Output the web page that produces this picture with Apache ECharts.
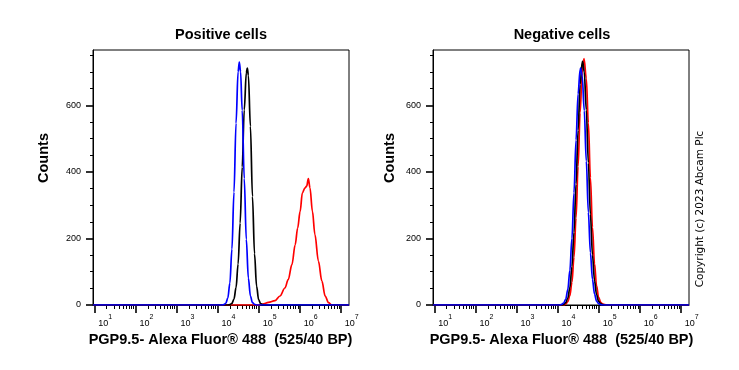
<!DOCTYPE html>
<html>
<head>
<meta charset="utf-8">
<script src="https://cdn.jsdelivr.net/npm/echarts@6/dist/echarts.min.js"></script>
<style>
html,body{margin:0;padding:0;background:#fff;}
#chart{width:739px;height:370px;}
</style>
</head>
<body>
<div id="chart"></div>
<script>
// ---- data (x in log10 units of fluorescence, y = counts) ----
const panelTitles = ['Positive cells', 'Negative cells'];
const xAxisTitle = 'PGP9.5- Alexa Fluor\u00AE 488  (525/40 BP)';
const yAxisTitle = 'Counts';
const copyrightText = 'Copyright (c) 2023 Abcam Plc';

const xDecades = [1, 2, 3, 4, 5, 6, 7];
const minorMultipliers = [2, 3, 4, 5, 6, 7, 8, 9];
const yMajorTicks = [0, 200, 400, 600];
const yMinorTicks = [50, 100, 150, 250, 300, 350, 450, 500, 550, 650, 700, 750];
const xRange = [0.968, 7.20];
const yRange = [0, 766];

// Positive cells
const posBlueX  = [0.97, 4.10, 4.15, 4.20, 4.25, 4.30, 4.35, 4.40, 4.45, 4.50, 4.53, 4.56, 4.60, 4.65, 4.70, 4.75, 4.80, 4.85, 4.90, 4.95, 7.20];
const posBlueY  = [0, 0, 1, 5, 21, 66, 168, 339, 546, 701, 730, 701, 585, 380, 197, 81, 27, 7, 2, 0, 0];
const posBlackX = [0.97, 4.25, 4.30, 4.35, 4.40, 4.45, 4.50, 4.55, 4.60, 4.65, 4.70, 4.725, 4.75, 4.80, 4.85, 4.90, 4.95, 5.00, 5.05, 5.10, 5.15, 7.20];
const posBlackY = [0, 0, 1, 5, 18, 52, 123, 246, 414, 586, 697, 712, 690, 537, 326, 154, 57, 16, 4, 1, 0, 0];
const posRedX   = [0.97, 5.00, 5.10, 5.24, 5.40, 5.52, 5.64, 5.72, 5.81, 5.89, 5.95, 6.01, 6.065, 6.13, 6.17, 6.21, 6.25, 6.31, 6.37, 6.455, 6.54, 6.62, 6.70, 6.78, 7.20];
const posRedY   = [0, 0, 3, 8, 13, 27, 51, 76, 121, 181, 231, 281, 337, 352, 357, 380, 352, 281, 212, 132, 72, 27, 7, 0, 0];

// Negative cells
const negBlueX  = [0.97, 4.05, 4.10, 4.15, 4.20, 4.25, 4.30, 4.35, 4.40, 4.45, 4.50, 4.55, 4.565, 4.60, 4.65, 4.70, 4.75, 4.80, 4.85, 4.90, 4.95, 5.00, 5.05, 5.10, 7.20];
const negBlueY  = [0, 0, 2, 6, 18, 47, 104, 200, 337, 495, 634, 708, 712, 688, 584, 432, 278, 157, 77, 33, 12, 4, 1, 0, 0];
const negBlackX = [0.97, 4.10, 4.15, 4.20, 4.25, 4.30, 4.35, 4.40, 4.45, 4.50, 4.55, 4.60, 4.61, 4.65, 4.70, 4.75, 4.80, 4.85, 4.90, 4.95, 5.00, 5.05, 5.10, 5.15, 7.20];
const negBlackY = [0, 0, 2, 7, 21, 52, 115, 218, 363, 525, 663, 730, 732, 700, 586, 427, 272, 151, 73, 31, 11, 4, 1, 0, 0];
const negRedX   = [0.97, 4.15, 4.20, 4.25, 4.30, 4.35, 4.40, 4.45, 4.50, 4.55, 4.60, 4.645, 4.70, 4.75, 4.80, 4.85, 4.90, 4.95, 5.00, 5.05, 5.10, 5.15, 5.20, 7.20];
const negRedY   = [0, 0, 3, 10, 28, 68, 143, 261, 416, 578, 700, 740, 681, 547, 383, 234, 124, 58, 23, 8, 3, 1, 0, 0];

// ---- build ----
const zip = (xs, ys) => xs.map((x, i) => [x, ys[i]]);
const xMinorTicks = [];
xDecades.forEach(d => minorMultipliers.forEach(m => {
  const v = d + Math.log10(m);
  if (v > xRange[0] && v < xRange[1]) xMinorTicks.push(v);
}));

const FONT = 'Liberation Sans, Arial, sans-serif';
const grids = [
  { left: 93, top: 50, width: 256, height: 255 },
  { left: 433, top: 50, width: 256, height: 255 }
];

const xAxes = [], yAxes = [];
grids.forEach((g, gi) => {
  xAxes.push({
    type: 'value', gridIndex: gi, position: 'bottom', min: xRange[0], max: xRange[1],
    axisLine: { show: true, lineStyle: { color: '#000', width: 1 } },
    axisTick: { show: true, customValues: xDecades, length: 8, lineStyle: { color: '#000', width: 1.6 } },
    axisLabel: {
      show: true, customValues: xDecades, margin: 9, align: 'left', padding: [0, 0, 0, 4],
      formatter: v => '{b|10}{s|' + Math.round(v) + '}',
      rich: {
        b: { fontSize: 9, fontFamily: FONT, color: '#000', verticalAlign: 'bottom', lineHeight: 14 },
        s: { fontSize: 7, fontFamily: FONT, color: '#000', verticalAlign: 'top', lineHeight: 8 }
      }
    },
    splitLine: { show: false }
  });
  xAxes.push({
    type: 'value', gridIndex: gi, position: 'bottom', min: xRange[0], max: xRange[1],
    axisLine: { show: false },
    axisTick: { show: true, customValues: xMinorTicks, length: 4, lineStyle: { color: '#000', width: 1 } },
    axisLabel: { show: false },
    splitLine: { show: false }
  });
  yAxes.push({
    type: 'value', gridIndex: gi, position: 'left', min: yRange[0], max: yRange[1],
    axisLine: { show: true, lineStyle: { color: '#000', width: 1 } },
    axisTick: { show: true, customValues: yMajorTicks, length: 7, lineStyle: { color: '#000', width: 1.6 } },
    axisLabel: { show: true, customValues: yMajorTicks, margin: 12, fontSize: 9, fontFamily: FONT, color: '#000' },
    splitLine: { show: false }
  });
  yAxes.push({
    type: 'value', gridIndex: gi, position: 'left', min: yRange[0], max: yRange[1],
    axisLine: { show: false },
    axisTick: { show: true, customValues: yMinorTicks, length: 3, lineStyle: { color: '#000', width: 1 } },
    axisLabel: { show: false },
    splitLine: { show: false }
  });
});

function line(xs, ys, color, gi) {
  return {
    type: 'line', xAxisIndex: gi * 2, yAxisIndex: gi * 2, data: zip(xs, ys),
    showSymbol: false, symbol: 'none', smooth: 0.35, smoothMonotone: 'x',
    lineStyle: { color: color, width: 1.7 }, silent: true
  };
}

const series = [
  line(posRedX, posRedY, '#ff0000', 0),
  line(posBlackX, posBlackY, '#000000', 0),
  line(posBlueX, posBlueY, '#0000ff', 0),
  line(negRedX, negRedY, '#ff0000', 1),
  line(negBlackX, negBlackY, '#000000', 1),
  line(negBlueX, negBlueY, '#0000ff', 1)
];

function txt(str, x, y, size, weight, rot, family) {
  return {
    type: 'text', x: x, y: y, rotation: rot || 0, silent: true,
    style: {
      text: str, fill: '#000', font: (weight || 'normal') + ' ' + size + 'px ' + (family || FONT),
      align: 'center', verticalAlign: 'middle', textAlign: 'center', textVerticalAlign: 'middle'
    }
  };
}

const graphic = [
  txt(panelTitles[0], 221, 35, 14.5, 'bold'),
  txt(panelTitles[1], 562, 35, 14.5, 'bold'),
  txt(xAxisTitle, 220.5, 339.5, 14.5, 'bold'),
  txt(xAxisTitle, 561.5, 339.5, 14.5, 'bold'),
  txt(yAxisTitle, 44, 158, 14.5, 'bold', Math.PI / 2),
  txt(yAxisTitle, 390, 158, 14.5, 'bold', Math.PI / 2),
  txt(copyrightText, 700.5, 209, 10.5, 'normal', Math.PI / 2, 'DejaVu Sans, sans-serif')
];

const chart = echarts.init(document.getElementById('chart'), null, { renderer: 'canvas' });
chart.setOption({
  animation: false,
  backgroundColor: '#fff',
  grid: grids.map(g => Object.assign({ show: true, borderColor: '#000', borderWidth: 1, backgroundColor: 'transparent', containLabel: false }, g)),
  xAxis: xAxes,
  yAxis: yAxes,
  series: series,
  graphic: graphic
});
</script>
</body>
</html>
